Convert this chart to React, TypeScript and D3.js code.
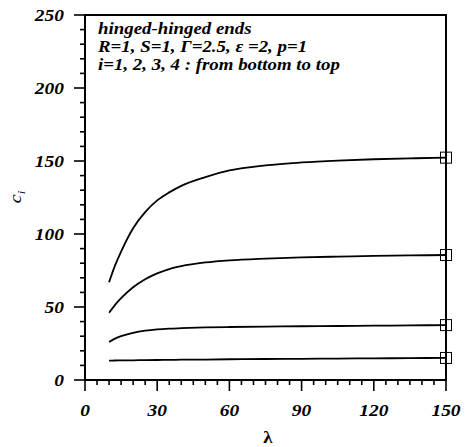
import React from "react";
import * as d3 from "d3";

const lambdas = [10, 12.5, 15, 20, 25, 30, 35, 40, 50, 60, 75, 90, 105, 120, 135, 150];
const c1 = [13.3, 13.35, 13.4, 13.5, 13.6, 13.7, 13.8, 13.9, 14.0, 14.2, 14.4, 14.5, 14.7, 14.8, 15.0, 15.1];
const c2 = [26, 28.3, 30, 32.3, 33.8, 34.7, 35.2, 35.5, 36, 36.3, 36.6, 36.8, 37, 37.2, 37.4, 37.6];
const c3 = [46, 51.5, 56, 63.5, 69, 73, 76, 78, 80.5, 82, 83.2, 84, 84.5, 85, 85.3, 85.6];
const c4 = [67, 78.5, 88, 104, 115, 123, 128.5, 133, 139, 143.5, 147, 149, 150.3, 151.2, 151.8, 152.3];
const seriesList = [c1, c2, c3, c4];

const xTicks = [0, 30, 60, 90, 120, 150];
const yTicks = [0, 50, 100, 150, 200, 250];
const annotations = [
  "hinged-hinged ends",
  "R=1, S=1, \u0393=2.5, \u03b5 =2, p=1",
  "i=1, 2, 3, 4 : from bottom to top",
];

const txt = { fontFamily: "Liberation Serif" } as React.CSSProperties;
const SX = 1.18;

function T(props: {
  x: number;
  y: number;
  size: number;
  anchor?: string;
  bold?: boolean;
  italic?: boolean;
  rotate?: number;
  children: React.ReactNode;
}) {
  const { x, y, size, anchor, bold, italic, rotate, children } = props;
  return (
    <text
      transform={`translate(${x},${y})${rotate ? ` rotate(${rotate})` : ""} scale(${SX},1)`}
      textAnchor={anchor || "start"}
      fontSize={size}
      fontWeight={bold ? "bold" : "normal"}
      fontStyle={italic ? "italic" : "normal"}
      style={txt}
    >
      {children}
    </text>
  );
}

export default function App() {
  const x = d3.scaleLinear().domain([0, 150]).range([85, 446]);
  const y = d3.scaleLinear().domain([0, 250]).range([380, 15]);
  const line = d3
    .line<number>()
    .x((_, i) => x(lambdas[i]))
    .y((d) => y(d))
    .curve(d3.curveMonotoneX);

  const xMinor = d3.range(0, 151, 5);
  const yMinor = d3.range(0, 251, 10);

  return (
    <svg
      width={469}
      height={447}
      style={{ position: "absolute", left: 0, top: 0, background: "#fff" }}
    >
      <rect x={0} y={0} width={469} height={447} fill="#fff" />
      <rect
        x={x(0)}
        y={y(250)}
        width={x(150) - x(0)}
        height={y(0) - y(250)}
        fill="none"
        stroke="#000"
        strokeWidth={2}
      />
      {xMinor.map((t) => {
        const major = t % 30 === 0;
        return (
          <line
            key={"xt" + t}
            x1={x(t)}
            x2={x(t)}
            y1={y(0)}
            y2={y(0) + (major ? 11 : 5)}
            stroke="#000"
            strokeWidth={1.6}
          />
        );
      })}
      {yMinor.map((t) => {
        const major = t % 50 === 0;
        return (
          <line
            key={"yt" + t}
            x1={x(0) - (major ? 11 : 5)}
            x2={x(0)}
            y1={y(t)}
            y2={y(t)}
            stroke="#000"
            strokeWidth={1.6}
          />
        );
      })}
      {xTicks.map((t) => (
        <T key={"xl" + t} x={x(t)} y={416} size={16.5} anchor="middle" bold italic>
          {t}
        </T>
      ))}
      {yTicks.map((t) => (
        <T key={"yl" + t} x={64} y={y(t) + 6} size={16.5} anchor="end" bold italic>
          {t}
        </T>
      ))}
      <T x={268} y={443} size={16} anchor="middle" bold>
        λ
      </T>
      <T x={21} y={197} size={17} anchor="middle" italic rotate={-90}>
        c<tspan fontSize={11} dy={4}>i</tspan>
      </T>
      {seriesList.map((s, i) => (
        <path key={"c" + i} d={line(s) || ""} fill="none" stroke="#000" strokeWidth={1.8} />
      ))}
      {seriesList.map((s, i) => (
        <rect
          key={"m" + i}
          x={x(150) - 5.5}
          y={y(s[s.length - 1]) - 5.5}
          width={11}
          height={11}
          fill="none"
          stroke="#000"
          strokeWidth={1}
        />
      ))}
      {annotations.map((a, i) => (
        <T key={"a" + i} x={98} y={34 + i * 18} size={16} bold italic>
          {a}
        </T>
      ))}
    </svg>
  );
}
